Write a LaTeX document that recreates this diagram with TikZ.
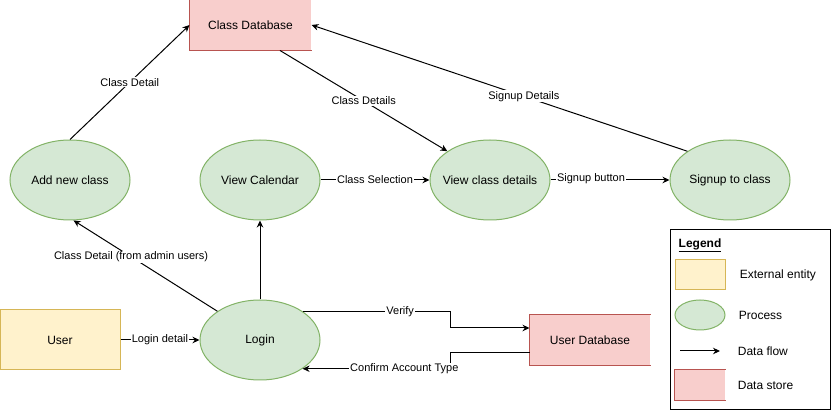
\documentclass[tikz,border=0pt]{standalone}
\usepackage{fontspec}
\setmainfont{Liberation Sans}
\usetikzlibrary{shapes.geometric,arrows.meta,calc}
\definecolor{entfill}{HTML}{FFF2CC}\definecolor{entline}{HTML}{D6B656}
\definecolor{procfill}{HTML}{D5E8D4}\definecolor{procline}{HTML}{82B366}
\definecolor{storefill}{HTML}{F8CECC}\definecolor{storeline}{HTML}{B85450}
\begin{document}
\begin{tikzpicture}[x=1pt,y=-1pt,line width=1pt,
  txt/.style={font=\fontsize{12}{14}\selectfont},
  proc/.style={txt,ellipse,draw=procline,fill=procfill,minimum width=120pt,minimum height=80pt,inner ysep=0pt,inner xsep=-15pt},
  ent/.style={txt,draw=entline,fill=entfill,minimum width=120pt,minimum height=60pt,inner sep=0pt},
  store/.style={txt,fill=storefill,minimum width=120pt,minimum height=50pt,inner sep=0pt},
  flow/.style={-{Stealth[length=7pt,width=6.5pt]}},
  lbl/.style={font=\fontsize{11}{13}\selectfont,fill=white,inner sep=1pt}]
  \useasboundingbox (0,0) rectangle (831,411);
  \node[store,minimum width=121pt] (cdb) at (250.5,25) {Class Database}; \node[store] (udb) at (590,340) {User Database};
  \foreach \n in {cdb,udb} \draw[storeline] (\n.north east) -- (\n.north west) -- (\n.south west) -- (\n.south east);
  \node[ent] (user) at (60,340) {User}; \node[proc] (login) at (260,340) {Login};
  \node[proc] (addc) at (70,180) {Add new class}; \node[proc] (cal) at (260,180) {View Calendar};
  \node[proc] (vcd) at (490,180) {View class details}; \node[proc] (sup) at (730,180) {Signup to class};
  \coordinate (mx) at (450,0); \coordinate (vin) at ($(udb.west)+(0,-12)$); \coordinate (cout) at ($(udb.west)+(0,13)$);
  \draw[flow] (addc.north) -- node[lbl] {Class Detail} (cdb.west);
  \draw[flow] ($(cdb.south)+(29.5,0)$) -- node[lbl] {Class Details} (vcd.146);
  \draw[flow] (sup.146) -- node[lbl,pos=.435] {Signup Details} (cdb.east);
  \draw[flow] (cal.east) -- node[lbl] {Class Selection} (vcd.west);
  \draw[flow] (vcd.east) -- node[lbl,pos=.34,yshift=1pt] {Signup button} (sup.west);
  \draw[flow] (login.north) -- (cal.south);
  \draw[flow] (login.146) -- node[lbl,pos=.6] {Class Detail (from admin users)} (addc.-85);
  \draw[flow] (user.east) -- node[lbl] {Login detail} (login.west);
  \draw[flow] (login.33) -- node[lbl,pos=.66] {Verify} (login.33 -| mx) -- (mx |- vin) -- (vin);
  \draw[flow] (cout) -- (cout -| mx) -- (mx |- login.-34) -- node[lbl,pos=.31] {Confirm Account Type} (login.-34);
  % legend
  \node[draw,minimum width=160pt,minimum height=180pt,inner sep=0pt] (leg) at (750,320) {};
  \node[txt,font=\fontsize{12}{14}\bfseries] (legt) at (700,245) {\underline{Legend}};
  \node[ent,minimum width=50pt,minimum height=30pt] (lent) at (700,275) {}; \node[txt,anchor=west] (lentt) at (736,275) {External entity};
  \node[proc,minimum width=50pt,minimum height=30pt] (lproc) at (700,315) {}; \node[txt,anchor=west] (lproct) at (735,315) {Process};
  \coordinate (lfa) at (680,351); \coordinate (lfb) at (720,351); \draw[flow] (lfa) -- (lfb); \node[txt,anchor=west] (lflowt) at (734,351) {Data flow};
  \node[store,minimum width=50pt,minimum height=30pt] (lsto) at (700,385) {}; \draw[storeline] (lsto.north east) -- (lsto.north west) -- (lsto.south west) -- (lsto.south east);
  \node[txt,anchor=west] (lstot) at (734,385) {Data store};
\end{tikzpicture}
\end{document}
